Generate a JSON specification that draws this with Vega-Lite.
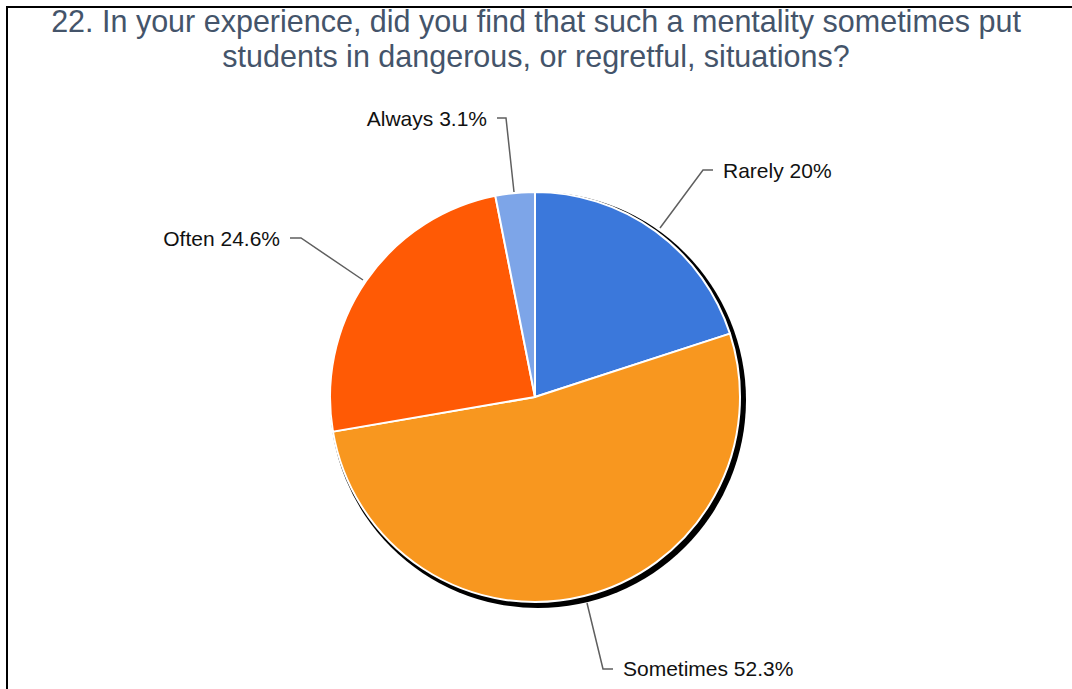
{
  "$schema": "https://vega.github.io/schema/vega-lite/v6.json",
  "width": 1072,
  "height": 584,
  "autosize": "none",
  "padding": {"left": 0, "right": 0, "top": 105, "bottom": 0},
  "background": "white",
  "view": {"stroke": null},
  "datasets": {
    "answers": [
      {"answer": "Rarely", "pct": 20, "idx": 1},
      {"answer": "Sometimes", "pct": 52.3, "idx": 2},
      {"answer": "Often", "pct": 24.6, "idx": 3},
      {"answer": "Always", "pct": 3.1, "idx": 4}
    ],
    "titleLines": [
      {"line": "22. In your experience, did you find that such a mentality sometimes put", "x": 1, "y": 374},
      {"line": "students in dangerous, or regretful, situations?", "x": 1, "y": 339}
    ],
    "shadow": [{"whole": 1, "cx": 3, "cy": -3}],
    "frame": [{"x1": -528, "x2": 600, "y1": 390, "y2": -400}],
    "leaders": [
      {"answer": "Rarely", "seq": 1, "x": 125, "y": 169},
      {"answer": "Rarely", "seq": 2, "x": 168, "y": 227},
      {"answer": "Rarely", "seq": 3, "x": 178, "y": 227},
      {"answer": "Sometimes", "seq": 1, "x": 52, "y": -206},
      {"answer": "Sometimes", "seq": 2, "x": 68, "y": -272},
      {"answer": "Sometimes", "seq": 3, "x": 78, "y": -272},
      {"answer": "Often", "seq": 1, "x": -172, "y": 117},
      {"answer": "Often", "seq": 2, "x": -234, "y": 159},
      {"answer": "Often", "seq": 3, "x": -245, "y": 159},
      {"answer": "Always", "seq": 1, "x": -21, "y": 205},
      {"answer": "Always", "seq": 2, "x": -29, "y": 279},
      {"answer": "Always", "seq": 3, "x": -38, "y": 279}
    ],
    "labels": [
      {"label": "Rarely 20%", "side": "right", "x": 188, "y": 225},
      {"label": "Sometimes 52.3%", "side": "right", "x": 88, "y": -273},
      {"label": "Often 24.6%", "side": "left", "x": -255, "y": 157},
      {"label": "Always 3.1%", "side": "left", "x": -48, "y": 277}
    ]
  },
  "resolve": {"scale": {"theta": "independent"}},
  "layer": [
    {
      "data": {"name": "frame"},
      "mark": {"type": "rect", "fillOpacity": 0, "stroke": "#000000", "strokeWidth": 2},
      "encoding": {
        "x": {"field": "x1", "type": "quantitative", "scale": {"domain": [-535, 537], "nice": false, "zero": false}, "axis": null},
        "x2": {"field": "x2"},
        "y": {"field": "y1", "type": "quantitative", "scale": {"domain": [-292, 292], "nice": false, "zero": false}, "axis": null},
        "y2": {"field": "y2"}
      }
    },
    {
      "data": {"name": "titleLines"},
      "mark": {"type": "text", "align": "center", "baseline": "middle", "font": "Liberation Sans", "fontSize": 30.5, "color": "#44546a"},
      "encoding": {
        "x": {"field": "x", "type": "quantitative", "scale": {"domain": [-535, 537], "nice": false, "zero": false}, "axis": null},
        "y": {"field": "y", "type": "quantitative", "scale": {"domain": [-292, 292], "nice": false, "zero": false}, "axis": null},
        "text": {"field": "line"}
      }
    },
    {
      "data": {"name": "shadow"},
      "mark": {"type": "arc", "radius": 208, "fill": "#000000"},
      "encoding": {
        "theta": {"field": "whole", "type": "quantitative"},
        "x": {"field": "cx", "type": "quantitative", "scale": {"domain": [-535, 537], "nice": false, "zero": false}, "axis": null},
        "y": {"field": "cy", "type": "quantitative", "scale": {"domain": [-292, 292], "nice": false, "zero": false}, "axis": null}
      }
    },
    {
      "data": {"name": "answers"},
      "mark": {"type": "arc", "radius": 205, "stroke": "#ffffff", "strokeWidth": 2},
      "encoding": {
        "theta": {"field": "pct", "type": "quantitative", "stack": true},
        "order": {"field": "idx", "type": "quantitative"},
        "color": {
          "field": "answer",
          "type": "nominal",
          "scale": {"domain": ["Rarely", "Sometimes", "Often", "Always"], "range": ["#3b78db", "#f8971f", "#ff5a05", "#7da5e8"]},
          "legend": null
        },
        "x": {"datum": 0, "type": "quantitative", "scale": {"domain": [-535, 537], "nice": false, "zero": false}, "axis": null},
        "y": {"datum": 0, "type": "quantitative", "scale": {"domain": [-292, 292], "nice": false, "zero": false}, "axis": null}
      }
    },
    {
      "data": {"name": "leaders"},
      "mark": {"type": "line", "stroke": "#5f5f5f", "strokeWidth": 1.5},
      "encoding": {
        "x": {"field": "x", "type": "quantitative", "scale": {"domain": [-535, 537], "nice": false, "zero": false}, "axis": null},
        "y": {"field": "y", "type": "quantitative", "scale": {"domain": [-292, 292], "nice": false, "zero": false}, "axis": null},
        "detail": {"field": "answer", "type": "nominal"},
        "order": {"field": "seq", "type": "quantitative"}
      }
    },
    {
      "data": {"name": "labels"},
      "transform": [{"filter": "datum.side === 'right'"}],
      "mark": {"type": "text", "align": "left", "baseline": "middle", "font": "Liberation Sans", "fontSize": 21, "color": "#111111"},
      "encoding": {
        "x": {"field": "x", "type": "quantitative", "scale": {"domain": [-535, 537], "nice": false, "zero": false}, "axis": null},
        "y": {"field": "y", "type": "quantitative", "scale": {"domain": [-292, 292], "nice": false, "zero": false}, "axis": null},
        "text": {"field": "label"}
      }
    },
    {
      "data": {"name": "labels"},
      "transform": [{"filter": "datum.side === 'left'"}],
      "mark": {"type": "text", "align": "right", "baseline": "middle", "font": "Liberation Sans", "fontSize": 21, "color": "#111111"},
      "encoding": {
        "x": {"field": "x", "type": "quantitative", "scale": {"domain": [-535, 537], "nice": false, "zero": false}, "axis": null},
        "y": {"field": "y", "type": "quantitative", "scale": {"domain": [-292, 292], "nice": false, "zero": false}, "axis": null},
        "text": {"field": "label"}
      }
    }
  ]
}
